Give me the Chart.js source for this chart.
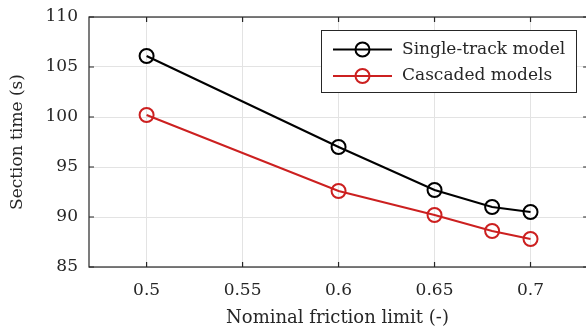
<!DOCTYPE html>
<html><head><meta charset="utf-8">
<script src="https://cdn.jsdelivr.net/npm/chart.js@4.4.0/dist/chart.umd.min.js"></script>
<style>
html,body{margin:0;padding:0;overflow:hidden;background:#fff}
canvas{display:block}
</style>
</head><body><canvas id="c" width="586" height="332" style="width:586px;height:332px"></canvas>
<script>
const frictionLimits = [0.5, 0.6, 0.65, 0.68, 0.7];
const singleTrack = [106.1, 97.0, 92.7, 91.0, 90.5];
const cascaded = [100.2, 92.6, 90.2, 88.6, 87.8];
const xTicks = [0.5, 0.55, 0.6, 0.65, 0.7];
const yTicks = [85, 90, 95, 100, 105, 110];
const seriesNames = ['Single-track model', 'Cascaded models'];
const seriesColors = ['#000000', '#cc2020'];
const xTitle = 'Nominal friction limit (-)';
const yTitle = 'Section time (s)';

const X_MIN = 0.47, X_FRAME_MAX = 0.73, X_VIEW_MAX = 0.7289;
const FONT = 'DejaVu Serif';
const FS = 17;
const AXC = '#262626';
const AREA = {left:89, top:17, right:586, bottom:267};

function pts(ys){ return frictionLimits.map((x,i)=>({x:x,y:ys[i]})); }

// pin the plot area to the reference position
const fixLayout = {
  id:'fixLayout',
  afterLayout(chart){
    const x = chart.scales.x, y = chart.scales.y, H = chart.height;
    x.left = AREA.left; x.right = AREA.right; x.width = AREA.right - AREA.left;
    x.top = AREA.bottom; x.bottom = H; x.height = H - AREA.bottom;
    y.left = 0; y.right = AREA.left; y.width = AREA.left;
    y.top = AREA.top; y.bottom = AREA.bottom; y.height = AREA.bottom - AREA.top;
    x.configure(); y.configure();
    Object.assign(chart.chartArea, {left:AREA.left, top:AREA.top, right:AREA.right, bottom:AREA.bottom,
      width:AREA.right - AREA.left, height:AREA.bottom - AREA.top});
  }
};

const framePlugin = {
  id:'frame',
  beforeDatasetsDraw(chart){
    const {ctx, chartArea:a, scales} = chart;
    const right = scales.x.getPixelForValue(X_FRAME_MAX);
    ctx.save();
    ctx.strokeStyle = AXC; ctx.lineWidth = 1.2;
    ctx.strokeRect(a.left, a.top, right-a.left, a.bottom-a.top);
    ctx.beginPath();
    const L = 5;
    xTicks.forEach(v=>{
      const x = scales.x.getPixelForValue(v);
      ctx.moveTo(x, a.bottom); ctx.lineTo(x, a.bottom-L);
      ctx.moveTo(x, a.top); ctx.lineTo(x, a.top+L);
    });
    yTicks.forEach(v=>{
      const y = scales.y.getPixelForValue(v);
      ctx.moveTo(a.left, y); ctx.lineTo(a.left+L, y);
      ctx.moveTo(right, y); ctx.lineTo(right-L, y);
    });
    ctx.stroke();
    ctx.restore();
  }
};

const legendPlugin = {
  id:'mlegend',
  afterDraw(chart){
    const ctx = chart.ctx;
    const bx = 321.5, by = 30.5, bw = 255, bh = 62;
    ctx.save();
    ctx.fillStyle = '#fff';
    ctx.fillRect(bx, by, bw, bh);
    ctx.strokeStyle = AXC; ctx.lineWidth = 1;
    ctx.strokeRect(bx, by, bw, bh);
    const rows = [49.5, 76];
    chart.data.datasets.forEach((ds, i)=>{
      const y = rows[i];
      ctx.strokeStyle = ds.borderColor; ctx.lineWidth = 2;
      ctx.beginPath(); ctx.moveTo(333, y); ctx.lineTo(392, y); ctx.stroke();
      ctx.beginPath(); ctx.arc(362.5, y, 7, 0, Math.PI*2); ctx.stroke();
      ctx.fillStyle = AXC;
      ctx.font = FS + 'px "' + FONT + '"';
      ctx.textBaseline = 'middle'; ctx.textAlign = 'left';
      ctx.fillText(ds.label, 402, y);
    });
    ctx.restore();
  }
};

new Chart(document.getElementById('c'), {
  type:'line',
  data:{
    datasets:[
      {label:seriesNames[0], data:pts(singleTrack), borderColor:seriesColors[0], backgroundColor:'transparent',
       borderWidth:2, pointRadius:7, pointBorderWidth:2, pointBackgroundColor:'transparent', pointBorderColor:seriesColors[0], tension:0},
      {label:seriesNames[1], data:pts(cascaded), borderColor:seriesColors[1], backgroundColor:'transparent',
       borderWidth:2, pointRadius:7, pointBorderWidth:2, pointBackgroundColor:'transparent', pointBorderColor:seriesColors[1], tension:0}
    ]
  },
  options:{
    responsive:false, animation:false, devicePixelRatio:1,
    layout:{padding:{top:17, right:0, left:0, bottom:0}},
    plugins:{legend:{display:false}, tooltip:{enabled:false}},
    scales:{
      x:{type:'linear', min:X_MIN, max:X_VIEW_MAX,
        afterBuildTicks(s){ s.ticks = xTicks.map(v=>({value:v})); },
        afterFit(s){ s.height = 65; },
        grid:{color:'#e3e3e3', lineWidth:1, drawTicks:false},
        border:{display:false},
        ticks:{padding:13, color:AXC, font:{family:FONT, size:FS}, maxRotation:0, autoSkip:false,
          callback:(v)=>String(+(+v).toFixed(2))},
        title:{display:true, text:xTitle, color:AXC, font:{family:FONT, size:18}, padding:{top:0, bottom:3}}
      },
      y:{type:'linear', min:85, max:110,
        afterBuildTicks(s){ s.ticks = yTicks.map(v=>({value:v})); },
        afterFit(s){ s.width = 89; },
        grid:{color:'#e3e3e3', lineWidth:1, drawTicks:false},
        border:{display:false},
        ticks:{padding:11, color:AXC, font:{family:FONT, size:FS}, autoSkip:false},
        title:{display:true, text:yTitle, color:AXC, font:{family:FONT, size:FS}, padding:{top:7, bottom:0}}
      }
    }
  },
  plugins:[fixLayout, framePlugin, legendPlugin]
});
</script>
</body></html>
